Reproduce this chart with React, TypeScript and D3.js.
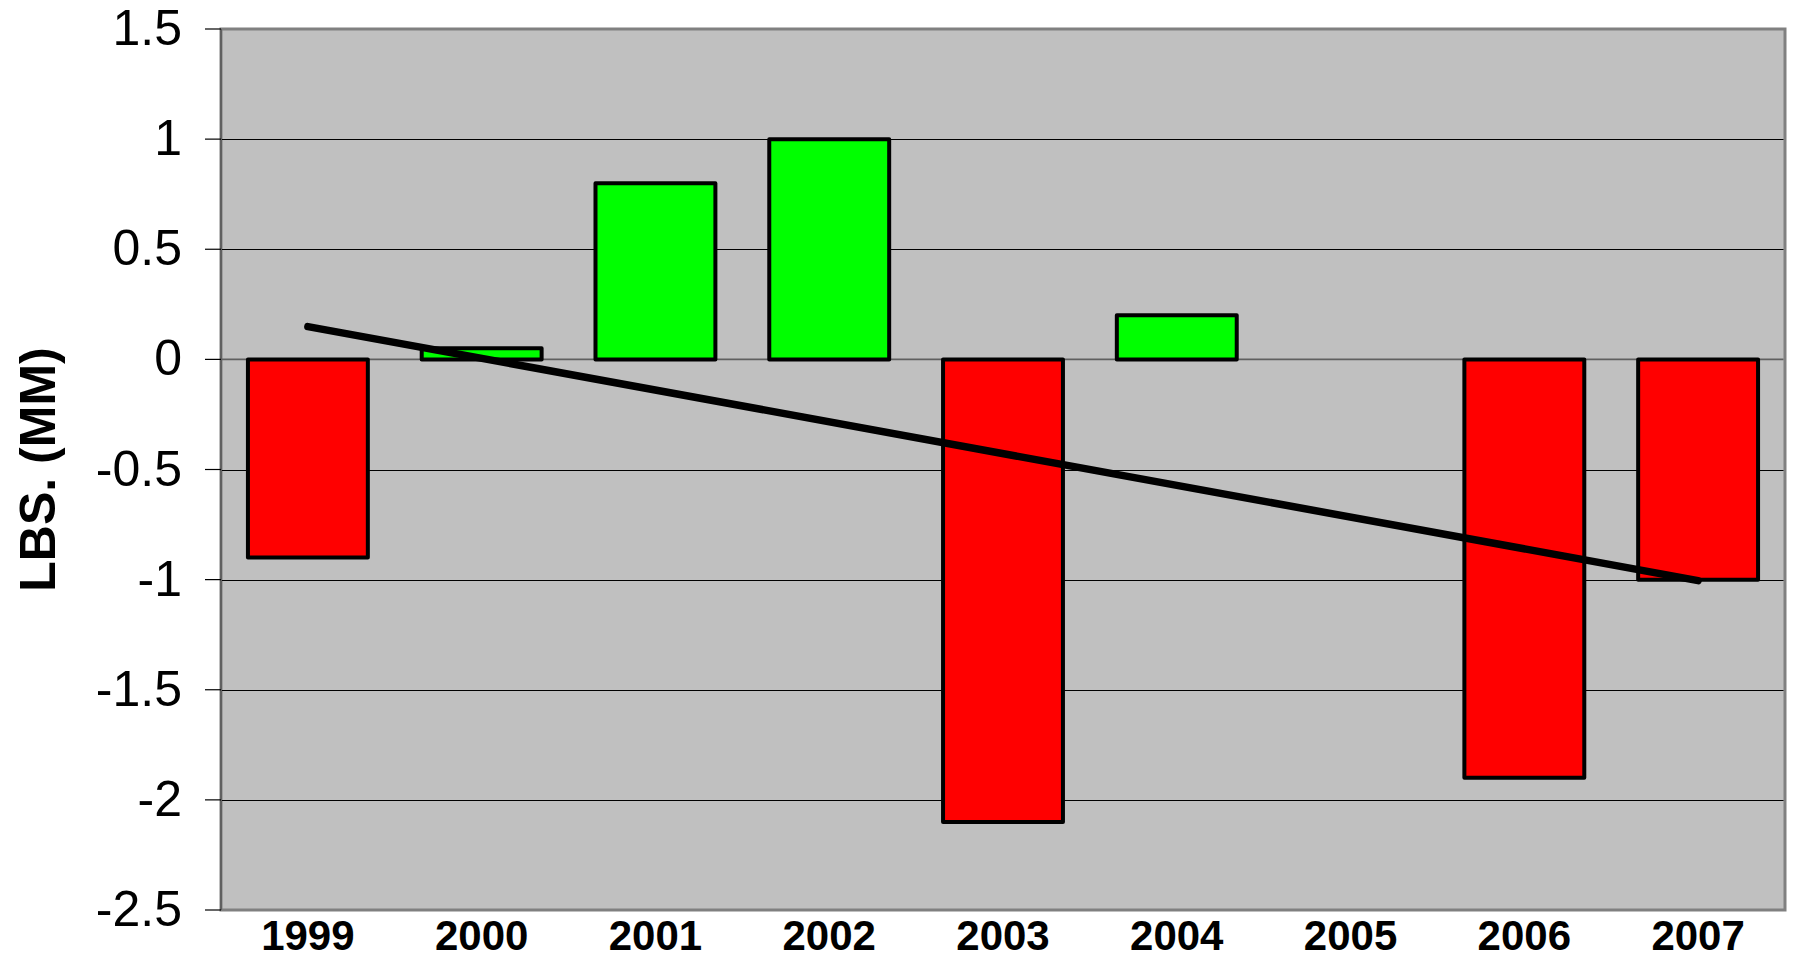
import React from "react";
import * as d3 from "d3";

// Annual change, lbs. (MM)
const years = ["1999", "2000", "2001", "2002", "2003", "2004", "2005", "2006", "2007"];
const changes = [-0.9, 0.05, 0.8, 1.0, -2.1, 0.2, 0, -1.9, -1.0];
const yTicks = [1.5, 1, 0.5, 0, -0.5, -1, -1.5, -2, -2.5];
const yTitle = "LBS. (MM)";

const W = 1795;
const H = 958;
const plot = { left: 221, right: 1785, top: 29, bottom: 910 };

export default function App() {
  const x = d3
    .scaleBand<string>()
    .domain(years)
    .range([plot.left, plot.right])
    .paddingInner(0.31)
    .paddingOuter(0.155);
  const y = d3.scaleLinear().domain([-2.5, 1.5]).range([plot.bottom, plot.top]);

  // least-squares linear trend over the series
  const n = changes.length;
  const xs = changes.map((_, i) => i);
  const mx = d3.mean(xs) as number;
  const my = d3.mean(changes) as number;
  const sxy = d3.sum(xs, (xi, i) => (xi - mx) * (changes[i] - my));
  const sxx = d3.sum(xs, (xi) => (xi - mx) * (xi - mx));
  const slope = sxy / sxx;
  const trend = xs.map((xi) => my + slope * (xi - mx));
  const center = (i: number) => (x(years[i]) as number) + x.bandwidth() / 2;
  const trendLine = d3.line<[number, number]>()([
    [center(0), y(trend[0])],
    [center(n - 1), y(trend[n - 1])],
  ]) as string;

  return (
    <div style={{ position: "absolute", left: 0, top: 0 }}>
      <svg width={W} height={H} style={{ display: "block", background: "#fff" }}>
        {/* plot background and frame */}
        <rect
          x={plot.left}
          y={plot.top}
          width={plot.right - plot.left}
          height={plot.bottom - plot.top}
          fill="#c0c0c0"
          stroke="#808080"
          strokeWidth={3}
        />
        {/* gridlines */}
        {yTicks
          .filter((t) => t !== 0 && t !== 1.5 && t !== -2.5)
          .map((t) => (
            <line
              key={`g${t}`}
              x1={plot.left}
              x2={plot.right - 1.5}
              y1={Math.round(y(t)) + 0.5}
              y2={Math.round(y(t)) + 0.5}
              stroke="#000"
              strokeWidth={1.2}
            />
          ))}
        {/* category axis at zero */}
        <line
          x1={plot.left}
          x2={plot.right - 1.5}
          y1={y(0)}
          y2={y(0)}
          stroke="#606060"
          strokeWidth={1.6}
        />
        {/* left axis */}
        <line x1={plot.left} x2={plot.left} y1={plot.top} y2={plot.bottom} stroke="#606060" strokeWidth={2} />
        {yTicks.map((t) => (
          <g key={`t${t}`}>
            <line x1={205} x2={plot.left} y1={y(t)} y2={y(t)} stroke="#000" strokeWidth={1.2} />
            <text
              x={182}
              y={y(t) + 16}
              textAnchor="end"
              fontFamily="'Liberation Sans', Arial, sans-serif"
              fontSize={50}
              fill="#000"
            >
              {String(t)}
            </text>
          </g>
        ))}
        {/* bars */}
        {changes.map((v, i) =>
          v === 0 ? null : (
            <rect
              key={years[i]}
              x={x(years[i])}
              y={Math.min(y(v), y(0))}
              width={x.bandwidth()}
              height={Math.abs(y(v) - y(0))}
              fill={v > 0 ? "#00ff00" : "#ff0000"}
              stroke="#000"
              strokeWidth={4}
              strokeLinejoin="round"
            />
          )
        )}
        {/* trend line */}
        <path d={trendLine} fill="none" stroke="#000" strokeWidth={7.5} strokeLinecap="round" />
        {/* x labels */}
        {years.map((yr, i) => (
          <text
            key={`x${yr}`}
            x={center(i)}
            y={950}
            textAnchor="middle"
            fontFamily="'Liberation Sans', Arial, sans-serif"
            fontWeight="bold"
            fontSize={42}
            fill="#000"
          >
            {yr}
          </text>
        ))}
        {/* y title */}
        <text
          transform={`translate(55, ${(plot.top + plot.bottom) / 2}) rotate(-90)`}
          textAnchor="middle"
          fontFamily="'Liberation Sans', Arial, sans-serif"
          fontWeight="bold"
          fontSize={50}
          fill="#000"
        >
          {yTitle}
        </text>
      </svg>
    </div>
  );
}
